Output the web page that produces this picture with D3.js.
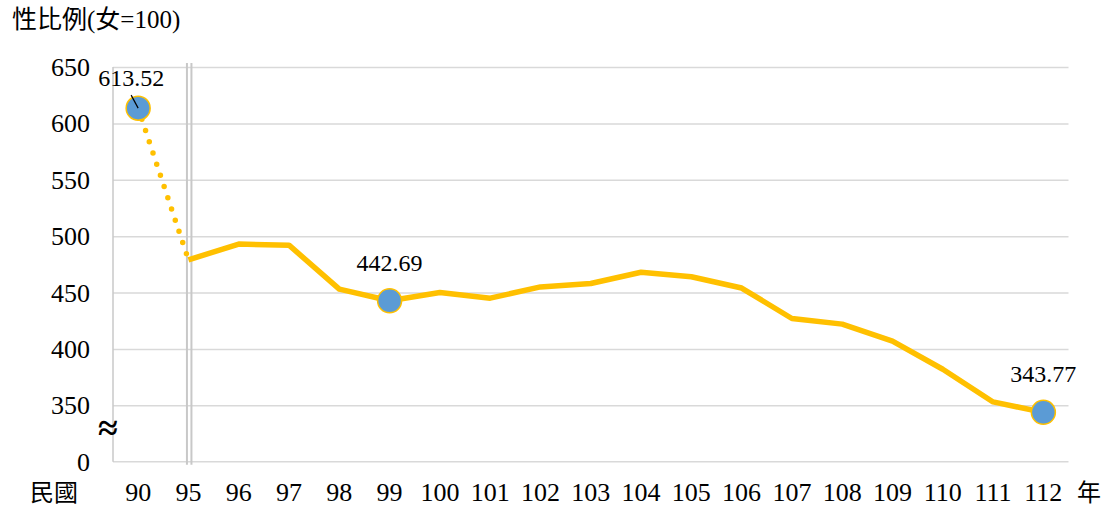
<!DOCTYPE html>
<html>
<head>
<meta charset="utf-8">
<script src="https://cdn.jsdelivr.net/npm/d3@7"></script>
<style>
  body { margin: 0; background: #fff; }
  svg text { font-family: "Times New Roman", "Liberation Serif", "DejaVu Serif", "Noto Sans CJK TC", serif; fill: #000; }
</style>
</head>
<body>
<svg width="1106" height="506"></svg>
<script>
var years = ["90", "95", "96", "97", "98", "99", "100", "101", "102", "103", "104", "105", "106", "107", "108", "109", "110", "111", "112"];
var ratio = [613.52, 479, 493, 492, 453, 442.69, 450, 445, 455, 458, 468, 464, 454, 427, 422, 407, 382, 353, 343.77];
var yTicks = [300, 350, 400, 450, 500, 550, 600, 650];
var yTickLabels = ["0", "350", "400", "450", "500", "550", "600", "650"];
var marked = ["90", "99", "112"];

var svg = d3.select("svg"),
    plotL = 113, plotR = 1068.5, plotT = 67, plotB = 461.7;

var x = d3.scaleBand().domain(years).range([plotL, plotR]).padding(0);
var y = d3.scaleLinear().domain([300, 650]).range([plotB, plotT]);
var cx = function(yr) { return x(yr) + x.bandwidth() / 2; };

var data = years.map(function(d, i) { return {year: d, v: ratio[i]}; });

// gridlines
svg.append("g")
    .attr("transform", "translate(" + plotL + ",0)")
    .call(d3.axisLeft(y).tickValues(yTicks.slice(1)).tickSize(-(plotR - plotL)).tickFormat(""))
    .call(function(g) { g.select(".domain").remove(); })
    .selectAll("line").attr("stroke", "#d9d9d9").attr("stroke-width", 1.5);

// axes lines
svg.append("line").attr("x1", plotL).attr("x2", plotR).attr("y1", plotB).attr("y2", plotB)
    .attr("stroke", "#d9d9d9").attr("stroke-width", 1.5);
svg.append("line").attr("x1", plotL).attr("x2", plotL).attr("y1", plotT).attr("y2", plotB)
    .attr("stroke", "#c8c8c8").attr("stroke-width", 1.5);

// y labels
svg.append("g")
    .selectAll("text")
    .data(yTicks)
    .enter().append("text")
    .attr("x", 90)
    .attr("y", function(d) { return y(d); })
    .attr("dy", "0.35em")
    .attr("text-anchor", "end")
    .attr("font-size", 26)
    .text(function(d, i) { return yTickLabels[i]; });

// axis break mark
svg.append("text").attr("x", 108).attr("y", 427).attr("dy", "0.35em")
    .attr("text-anchor", "middle").attr("font-size", 36).attr("font-weight", "bold")
    .text("≈");

// double vertical line at 95
[-1.5, 3].forEach(function(off) {
  svg.append("line")
      .attr("x1", cx("95") + off).attr("x2", cx("95") + off)
      .attr("y1", plotT - 4).attr("y2", plotB + 3)
      .attr("stroke", "#c8c8c8").attr("stroke-width", 2);
});

// x labels
svg.append("g")
    .selectAll("text")
    .data(years)
    .enter().append("text")
    .attr("x", function(d) { return cx(d); })
    .attr("y", 501)
    .attr("text-anchor", "middle")
    .attr("font-size", 26)
    .text(function(d) { return d; });

svg.append("text").attr("x", 30).attr("y", 501).attr("font-size", 24).text("民國");
svg.append("text").attr("x", 1077).attr("y", 501).attr("font-size", 24).text("年");

// title
svg.append("text").attr("x", 12).attr("y", 28).attr("font-size", 25).text("性比例(女=100)");

var line = d3.line()
    .x(function(d) { return cx(d.year); })
    .y(function(d) { return y(d.v); });

// dotted segment 90 -> 95
svg.append("path")
    .datum(data.slice(0, 2))
    .attr("d", line)
    .attr("fill", "none")
    .attr("stroke", "#ffc000")
    .attr("stroke-width", 5.5)
    .attr("stroke-linecap", "round")
    .attr("stroke-dasharray", "0 11.8");

svg.append("path")
    .datum(data.slice(1))
    .attr("d", line)
    .attr("fill", "none")
    .attr("stroke", "#ffc000")
    .attr("stroke-width", 5.5)
    .attr("stroke-linejoin", "round");

var pts = data.filter(function(d) { return marked.indexOf(d.year) >= 0; });

svg.selectAll("circle.pt")
    .data(pts)
    .enter().append("circle")
    .attr("class", "pt")
    .attr("cx", function(d) { return cx(d.year); })
    .attr("cy", function(d) { return y(d.v); })
    .attr("r", 12)
    .attr("fill", "#5b9bd5")
    .attr("stroke", "#ffc000")
    .attr("stroke-width", 1.5);

// leader line for first label
svg.append("line")
    .attr("x1", cx("90")).attr("y1", y(613.52))
    .attr("x2", cx("90") - 7).attr("y2", y(613.52) - 13)
    .attr("stroke", "#000").attr("stroke-width", 1.2);

svg.selectAll("text.val")
    .data(pts)
    .enter().append("text")
    .attr("class", "val")
    .attr("x", function(d, i) { return cx(d.year) + (i === 0 ? -7 : 0); })
    .attr("y", function(d, i) { return y(d.v) - (i === 0 ? 22 : 30); })
    .attr("text-anchor", "middle")
    .attr("font-size", 24)
    .text(function(d) { return d3.format(".2f")(d.v); });
</script>
</body>
</html>
